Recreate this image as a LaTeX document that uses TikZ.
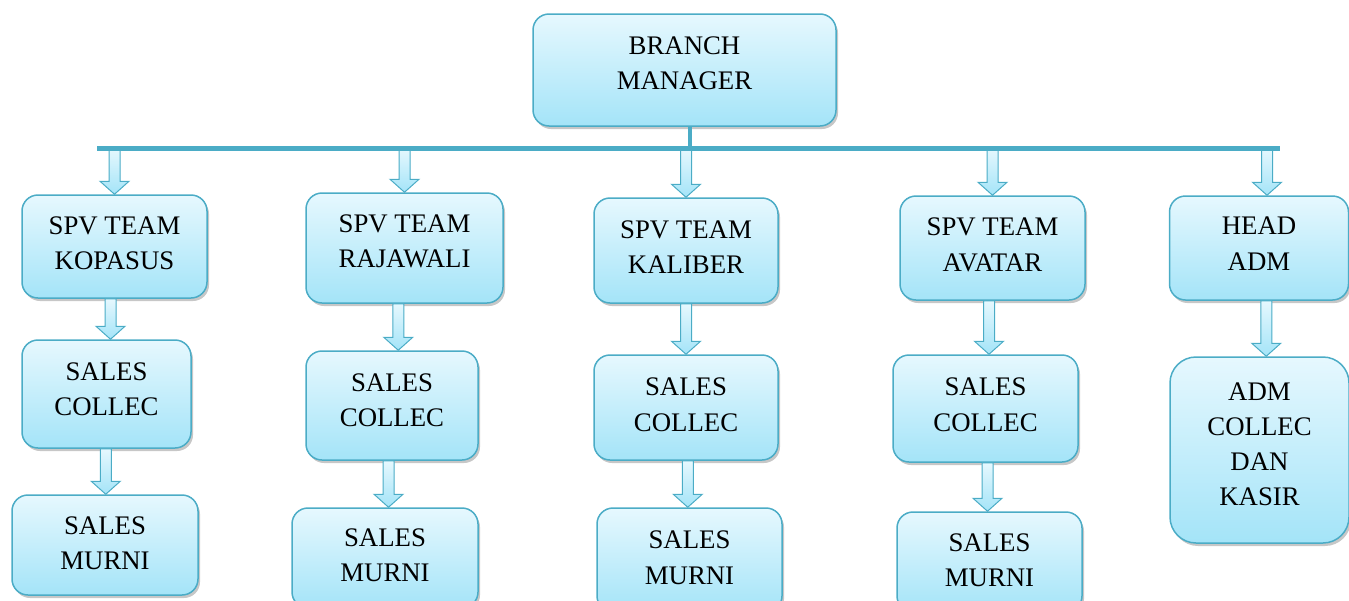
\documentclass[tikz,border=0pt]{standalone}
\usepackage{fontspec}
\setmainfont{Liberation Serif}
\usetikzlibrary{calc,shadows}
\definecolor{linec}{RGB}{75,172,198}
\definecolor{filltop}{RGB}{230,248,254}
\definecolor{fillbot}{RGB}{164,228,248}
% centred lines of a box, set a little above the box middle
\newcommand\boxtext[2][3pt]{\raisebox{#1}[\height][\depth]{\begin{tabular}{@{}c@{}}#2\end{tabular}}}
\tikzset{
  orgbox/.style={draw=linec, line width=1.5pt, rounded corners=16pt,
    top color=filltop, bottom color=fillbot,
    drop shadow={fill=black, opacity=0.22, shadow xshift=2pt, shadow yshift=-3pt},
    inner sep=0pt, text=black,
    font=\fontsize{26.8}{35.2}\selectfont},
  barline/.style={draw=linec, line width=5pt},
  blockarrow/.style={draw=linec, line width=1pt, top color=filltop, bottom color=fillbot,
    to path={let \p1=(\tikztostart), \p2=(\tikztotarget),
      \p3=($(\tikztostart)!0.5!(\tikztotarget)$) in
      (\x3-5.5pt,\y1) -- (\x3+5.5pt,\y1) -- (\x3+5.5pt,\y2+13pt) -- (\x3+14.5pt,\y2+13pt)
      -- (\x3,\y2) -- (\x3-14.5pt,\y2+13pt) -- (\x3-5.5pt,\y2+13pt) -- cycle}}
}
\begin{document}
\begin{tikzpicture}[x=1pt,y=-1pt]
\useasboundingbox (0,0) rectangle (1349,600);

% top of the chart
\node[orgbox, minimum width=303pt, minimum height=112pt] (bm) at (684.5,70) {\boxtext[5pt]{BRANCH\\MANAGER}};

% supervisors and head of administration
\node[orgbox, minimum width=185pt, minimum height=103pt] (s1) at (114.5,246.5) {\boxtext[1.5pt]{SPV TEAM\\KOPASUS}};
\node[orgbox, minimum width=197pt, minimum height=110pt] (s2) at (404.5,248) {\boxtext[5pt]{SPV TEAM\\RAJAWALI}};
\node[orgbox, minimum width=184pt, minimum height=105pt] (s3) at (686,250.5) {\boxtext[1.5pt]{SPV TEAM\\KALIBER}};
\node[orgbox, minimum width=185pt, minimum height=104pt] (s4) at (992.5,248) {\boxtext[1.5pt]{SPV TEAM\\AVATAR}};
\node[orgbox, minimum width=179pt, minimum height=104pt] (s5) at (1259,248) {\boxtext[2.5pt]{HEAD\\ADM}};

% collection staff
\node[orgbox, minimum width=169pt, minimum height=108pt] (c1) at (106.5,394) {\boxtext[3pt]{SALES\\COLLEC}};
\node[orgbox, minimum width=172pt, minimum height=109pt] (c2) at (392,405.5) {\boxtext[3.5pt]{SALES\\COLLEC}};
\node[orgbox, minimum width=184pt, minimum height=105pt] (c3) at (686,407.5) {\boxtext[1pt]{SALES\\COLLEC}};
\node[orgbox, minimum width=185pt, minimum height=107pt] (c4) at (985.5,408.5) {\boxtext[2pt]{SALES\\COLLEC}};
\node[orgbox, minimum width=179pt, minimum height=186pt, rounded corners=26pt] (c5) at (1259.5,450) {\boxtext[4pt]{ADM\\COLLEC\\DAN\\KASIR}};

% sales staff
\node[orgbox, minimum width=186pt, minimum height=100pt] (m1) at (105,545) {\boxtext[0pt]{SALES\\MURNI}};
\node[orgbox, minimum width=186pt, minimum height=100pt] (m2) at (385,558) {\boxtext[1pt]{SALES\\MURNI}};
\node[orgbox, minimum width=185pt, minimum height=104pt] (m3) at (689.5,560) {\boxtext[0.5pt]{SALES\\MURNI}};
\node[orgbox, minimum width=185pt, minimum height=100pt] (m4) at (989.5,562) {\boxtext[0pt]{SALES\\MURNI}};

% distribution bar
\coordinate (barL) at (97,148);
\coordinate (barR) at (1280,148);

% arrows from the bar
\foreach \b in {s1,s2,s3,s4}
  \draw[blockarrow] (\b.north |- barL) to (\b.north);
\draw[blockarrow] ([xshift=8pt]s5.north |- barL) to ([xshift=8pt]s5.north);

% arrows down each column
\draw[blockarrow] (s1.south) to (c1.north);
\draw[blockarrow] (c1.south) to (m1.north);
\draw[blockarrow] (s2.south) to (c2.north);
\draw[blockarrow] (c2.south) to (m2.north);
\draw[blockarrow] (s3.south) to (c3.north);
\draw[blockarrow] (c3.south) to (m3.north);
\draw[blockarrow] (s4.south) to (c4.north);
\draw[blockarrow] (c4.south) to (m4.north);
\draw[blockarrow] ([xshift=7pt]s5.south) to ([xshift=7pt]c5.north);

\draw[barline] (barL) -- (barR);
\draw[barline, line width=4pt] ([xshift=5pt]bm.south) -- ([xshift=5pt]bm.south |- barL);
\end{tikzpicture}
\end{document}
